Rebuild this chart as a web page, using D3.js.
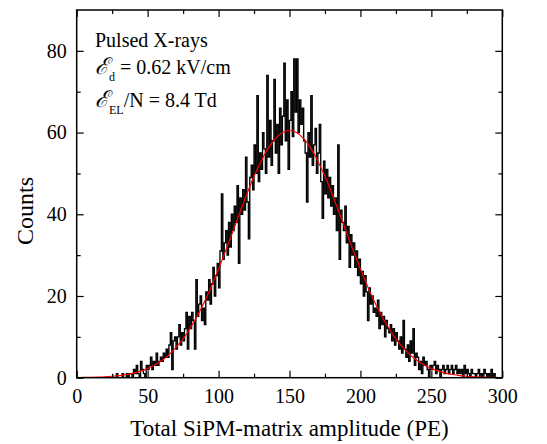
<!DOCTYPE html>
<html><head><meta charset="utf-8">
<script src="https://cdn.jsdelivr.net/npm/d3@7"></script>
<style>
body{margin:0;background:#fff;}
svg text{font-family:"Liberation Serif","Times New Roman",serif;fill:#000;}
</style></head>
<body><svg id="c" width="547" height="444"></svg>
<script>
// Histogram counts, bins of width 1 PE starting at 0
const binStart = 0;
const counts = [
0,0,0,0,0,0,0,0,0,0,
0,0,0,0,0,0,0,0,0,0,
0,0,0,0,0,0,0,0,1,0,
0,0,1,0,0,1,0,1,1,0,
2,1,3,1,0,4,2,1,0,3,
2,3,5,2,4,3,6,3,4,5,
4,6,5,7,5,8,11,2,9,10,
7,10,13,8,11,9,12,16,7,15,
12,16,14,7,24,15,18,20,14,17,
13,21,19,24,18,23,27,20,25,28,
22,31,45,29,33,36,30,38,32,40,
36,42,38,47,28,44,40,46,41,54,
43,34,49,52,46,57,50,69,48,55,
51,60,56,50,74,54,63,52,58,73,
55,62,50,66,57,64,77,58,68,51,
63,70,59,78,65,78,60,68,62,66,
58,55,43,60,54,69,52,57,61,50,
55,62,48,39,53,45,51,44,49,42,
47,40,44,36,57,29,41,38,36,42,
33,37,27,35,30,33,27,31,25,29,
23,26,20,25,21,14,22,18,20,16,
17,15,19,12,16,13,15,10,14,12,
11,13,9,12,8,11,9,7,10,6,
14,7,5,8,4,9,6,12,3,6,
5,2,4,1,5,3,4,2,0,3,
2,3,4,1,3,2,0,2,3,1,
2,3,1,2,3,1,2,3,1,2,
1,2,0,3,1,2,1,0,2,1,
1,0,1,2,0,1,0,2,1,0,
1,0,2,0,1,0,0,0,0,0
];
// Gaussian fit curve sampled every 5 PE
const fitX = [0,5,10,15,20,25,30,35,40,45,50,55,60,65,70,75,80,85,90,95,100,105,110,115,120,125,130,135,140,145,150,
155,160,165,170,175,180,185,190,195,200,205,210,215,220,225,230,235,240,245,250,255,260,265,270,275,280,285,290,295,300];
const fitY = [0.04,0.06,0.1,0.15,0.23,0.36,0.53,0.78,1.13,1.61,2.26,3.1,4.2,5.6,7.4,9.5,12.1,15.1,18.5,22.4,26.6,31.1,35.7,40.4,45.0,49.3,53.0,56.2,58.5,60.0,60.5,
60.0,58.5,56.2,53.0,49.3,45.0,40.4,35.7,31.1,26.6,22.4,18.5,15.1,12.1,9.5,7.4,5.6,4.2,3.1,2.26,1.61,1.13,0.78,0.53,0.36,0.23,0.15,0.1,0.06,0.04];
const xTicks = [0,50,100,150,200,250,300];
const xMinor = [25,75,125,175,225,275];
const yTicks = [0,20,40,60,80];
const yMinor = [10,30,50,70];
const xDomain = [0,300], yDomain = [0,90];
const xTitle = "Total SiPM-matrix amplitude (PE)";
const yTitle = "Counts";

const L=76.7, R=502.3, T=10, B=377.7;
const svg = d3.select("#c");
const x = d3.scaleLinear().domain(xDomain).range([L,R]);
const y = d3.scaleLinear().domain(yDomain).range([B,T]);

svg.append("defs").append("clipPath").attr("id","clip")
  .append("rect").attr("x",L).attr("y",T).attr("width",R-L).attr("height",B-T);

// histogram step line
const pts = counts.map((c,i)=>[binStart+i,c]);
pts.push([binStart+counts.length, counts[counts.length-1]]);
const hist = d3.line().x(d=>x(d[0])).y(d=>y(d[1])).curve(d3.curveStepAfter);
svg.append("path").attr("d",hist(pts)).attr("fill","none").attr("stroke","#000")
  .attr("stroke-width",1.35).attr("clip-path","url(#clip)");

// fit
const fit = d3.line().x((d,i)=>x(fitX[i])).y(d=>y(d)).curve(d3.curveMonotoneX);
svg.append("path").attr("d",fit(fitY)).attr("fill","none").attr("stroke","#ff0000")
  .attr("stroke-width",1.2).attr("clip-path","url(#clip)");

// axes (ticks inward on all sides)
const ax = (g, axis)=>{ g.call(axis); g.select(".domain").remove(); g.selectAll("line").attr("stroke","#000").attr("stroke-width",1.2); };
const bottom = svg.append("g").attr("transform",`translate(0,${B})`);
ax(bottom, d3.axisBottom(x).tickValues(xTicks).tickSize(-7).tickPadding(11.5).tickFormat(d3.format("d")));
ax(svg.append("g").attr("transform",`translate(0,${B})`), d3.axisBottom(x).tickValues(xMinor).tickSize(-4).tickFormat(""));
ax(svg.append("g").attr("transform",`translate(0,${T})`), d3.axisTop(x).tickValues(xTicks).tickSize(-7).tickFormat(""));
ax(svg.append("g").attr("transform",`translate(0,${T})`), d3.axisTop(x).tickValues(xMinor).tickSize(-4).tickFormat(""));
const left = svg.append("g").attr("transform",`translate(${L},0)`);
ax(left, d3.axisLeft(y).tickValues(yTicks).tickSize(-7).tickPadding(10).tickFormat(d3.format("d")));
ax(svg.append("g").attr("transform",`translate(${L},0)`), d3.axisLeft(y).tickValues(yMinor).tickSize(-4).tickFormat(""));
ax(svg.append("g").attr("transform",`translate(${R},0)`), d3.axisRight(y).tickValues(yTicks).tickSize(-7).tickFormat(""));
ax(svg.append("g").attr("transform",`translate(${R},0)`), d3.axisRight(y).tickValues(yMinor).tickSize(-4).tickFormat(""));
svg.selectAll(".tick text").attr("font-size",20).attr("font-family","Liberation Serif, Times New Roman, serif").attr("fill","#000");

svg.append("rect").attr("x",L).attr("y",T).attr("width",R-L).attr("height",B-T)
  .attr("fill","none").attr("stroke","#000").attr("stroke-width",1.5);

// titles
svg.append("text").attr("x",(L+R)/2).attr("y",436).attr("text-anchor","middle").attr("font-size",23).text(xTitle);
svg.append("text").attr("transform","translate(33,211) rotate(-90)").attr("text-anchor","middle").attr("font-size",24).text(yTitle);

// annotations
svg.append("text").attr("x",95).attr("y",47).attr("font-size",20).text("Pulsed X-rays");
const t2 = svg.append("text").attr("x",95).attr("y",74).attr("font-size",20);
t2.append("tspan").attr("font-style","italic").attr("font-size",23).text("ℰ");
t2.append("tspan").attr("font-size",12).attr("dy",7).text("d");
t2.append("tspan").attr("dy",-7).text(" = 0.62 kV/cm");
const t3 = svg.append("text").attr("x",95).attr("y",107).attr("font-size",20);
t3.append("tspan").attr("font-style","italic").attr("font-size",23).text("ℰ");
t3.append("tspan").attr("font-size",12).attr("dy",7).text("EL");
t3.append("tspan").attr("dy",-7).text("/N = 8.4 Td");
</script></body></html>
